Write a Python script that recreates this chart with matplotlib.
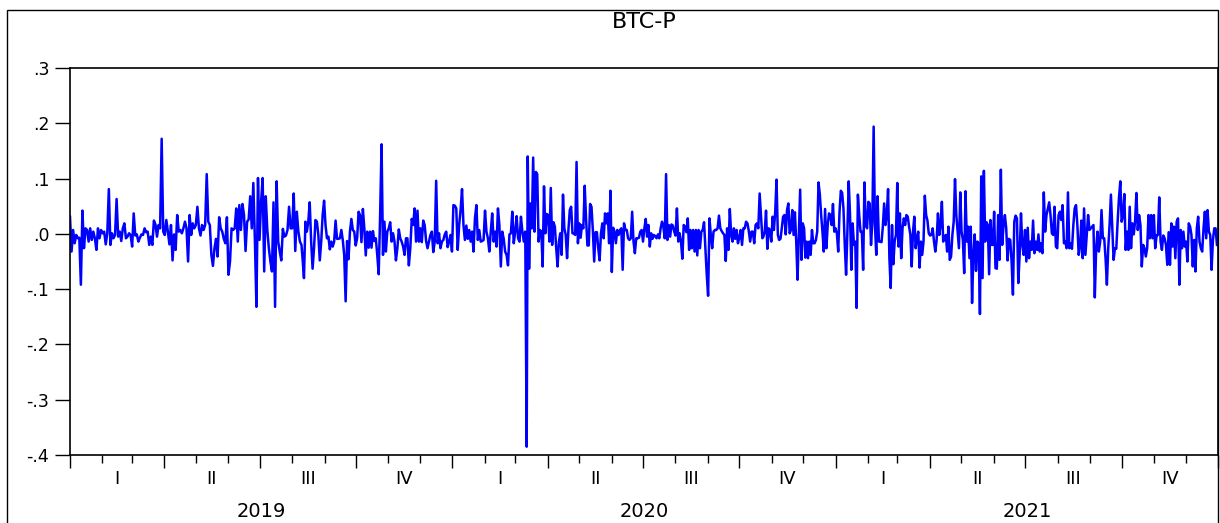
#!/usr/bin/env python3
"""BTC-P 日收益率序列图（EViews 风格）"""
import matplotlib
matplotlib.use('Agg')
import matplotlib.pyplot as plt
import matplotlib.dates as mdates
from matplotlib.patches import Rectangle
from matplotlib.ticker import NullFormatter
import pandas as pd

plt.rcParams['font.family'] = ['DejaVu Sans']

title = 'BTC-P'

# 各段数据（按图中读数估计）
seg1_dates = ('2019-01-01', '2019-08-10')
seg1 = [0.031, -0.032, 0.007, -0.017, -0.002, -0.008, -0.007, -0.092, 0.042, -0.026,
        0.010, 0.007, -0.014, 0.010, -0.011, 0.004, -0.008, -0.029, 0.010, -0.008,
        0.007, 0.001, 0.004, -0.019, 0.001, 0.081, -0.020, 0.001, -0.008, -0.002,
        0.063, -0.005, 0.004, -0.013, 0.010, 0.019, -0.008, -0.005, 0.001, -0.002,
        -0.023, 0.037, -0.003, -0.001, -0.014, -0.007, -0.001, -0.002, 0.010, 0.003,
        0.004, -0.020, -0.005, -0.020, 0.024, 0.017, -0.005, 0.016, 0.010, 0.172,
        0.004, -0.002, 0.025, 0.004, -0.019, 0.016, -0.048, -0.001, -0.029, 0.034,
        0.004, 0.007, 0.001, 0.010, 0.022, 0.010, -0.050, 0.034, -0.002, 0.019,
        0.010, 0.016, 0.049, 0.010, -0.003, 0.016, 0.007, 0.016, 0.108, 0.022,
        0.016, -0.038, -0.058, -0.026, -0.009, -0.041, 0.030, 0.010, 0.004, -0.009,
        -0.017, 0.030, -0.074, -0.050, 0.010, 0.007, 0.010, 0.046, -0.014, 0.052,
        0.007, 0.054, 0.034, -0.031, 0.022, 0.026, 0.068, 0.010, 0.092, -0.011,
        -0.132, 0.101, -0.011, 0.058, 0.101, -0.068, 0.068, 0.007, -0.026, -0.050,
        -0.068, 0.057, -0.132, 0.095, -0.014, -0.032, -0.048, 0.009, -0.005, -0.003,
        0.007, 0.049, 0.010, 0.010, 0.073, -0.031, 0.040, 0.004, -0.014, -0.020]

seg2_dates = ('2019-08-11', '2020-03-12')
seg2 = [-0.044, -0.080, 0.022, 0.004, 0.022, 0.057, -0.014, -0.063, -0.026, 0.025,
        0.022, -0.002, -0.048, -0.014, 0.034, 0.060, 0.016, -0.008, -0.005, -0.028,
        -0.014, -0.023, -0.014, 0.024, -0.009, -0.009, -0.008, 0.007, -0.011, -0.038,
        -0.122, -0.013, -0.046, 0.004, 0.027, 0.007, 0.004, -0.021, -0.008, 0.040,
        0.034, -0.015, 0.045, 0.010, -0.039, 0.004, -0.025, 0.004, -0.025, 0.005,
        -0.013, -0.008, -0.038, -0.073, 0.034, 0.162, -0.038, 0.022, -0.032, 0.004,
        0.010, 0.021, -0.014, 0.001, -0.014, -0.048, -0.026, 0.008, -0.008, -0.014,
        -0.023, -0.038, -0.008, -0.008, -0.057, -0.026, 0.027, 0.016, 0.046, -0.014,
        0.042, -0.014, 0.010, -0.015, 0.024, 0.016, -0.013, -0.026, -0.014, -0.002,
        0.004, -0.033, -0.014, 0.096, -0.017, 0.001, -0.026, -0.014, -0.011, -0.001,
        0.004, -0.024, -0.014, -0.002, -0.032, 0.052, 0.051, 0.046, -0.029, 0.016,
        0.043, 0.081, 0.016, -0.011, 0.015, -0.009, 0.007, -0.014, 0.004, -0.032,
        0.028, 0.052, -0.011, 0.007, -0.014, -0.013, -0.011, 0.042, 0.004, -0.008,
        -0.032, 0.004, 0.037, -0.014, 0.004, -0.023, 0.046, 0.016, -0.059, 0.004,
        -0.009, -0.032, -0.038, -0.057, -0.001, 0.001, 0.040, -0.017, 0.004, 0.032,
        -0.008, -0.014, 0.031, 0.004, -0.014, 0.004, -0.385]

seg3_dates = ('2020-03-13', '2020-10-23')
seg3 = [0.140, -0.063, 0.055, 0.010, 0.138, 0.004, 0.112, 0.108, -0.014, 0.007,
        0.004, -0.059, 0.086, 0.001, 0.036, 0.034, -0.014, 0.083, -0.020, 0.021,
        0.013, -0.026, -0.059, -0.014, 0.001, -0.038, 0.071, 0.010, -0.002, -0.044,
        0.007, 0.043, 0.049, 0.001, 0.001, -0.002, 0.130, -0.017, 0.019, -0.007,
        0.016, 0.010, 0.087, 0.028, -0.021, -0.021, 0.054, 0.049, 0.007, -0.050,
        0.003, 0.003, -0.026, -0.048, 0.001, 0.019, -0.008, 0.037, 0.019, 0.037,
        -0.017, 0.078, -0.069, 0.011, 0.004, -0.017, 0.007, -0.002, 0.007, 0.010,
        -0.065, 0.019, 0.007, 0.007, -0.008, -0.011, -0.008, 0.040, -0.014, -0.035,
        -0.008, -0.008, -0.007, 0.004, 0.007, -0.014, 0.010, 0.027, -0.005, 0.016,
        -0.023, 0.001, -0.009, -0.002, -0.004, -0.008, -0.001, -0.008, 0.010, 0.022,
        0.013, -0.008, 0.108, -0.011, 0.016, -0.005, 0.017, 0.015, 0.004, -0.003,
        0.046, -0.014, 0.001, -0.014, -0.045, 0.016, 0.013, 0.003, 0.028, -0.029,
        0.007, -0.026, 0.007, -0.032, 0.007, -0.039, 0.007, -0.026, 0.004, 0.007,
        0.021, -0.026, -0.074, -0.112, 0.028, -0.002, -0.026, 0.004, 0.007, 0.007,
        0.010, 0.033, 0.010, 0.005, 0.001, -0.002, -0.049, 0.010, -0.029, 0.045,
        -0.002, -0.014, 0.010, -0.009, 0.007, -0.017, -0.007, 0.007, -0.020, 0.010,
        0.010, 0.022, 0.019, 0.005, -0.014, 0.004, 0.004, -0.017, 0.016, 0.019,
        0.010, 0.073, 0.034, -0.008]

seg4_dates = ('2020-10-24', '2021-05-30')
seg4 = [-0.005, 0.004, 0.042, -0.027, 0.010, 0.007, -0.014, 0.031, 0.007, 0.040,
        0.098, -0.002, -0.011, -0.009, 0.010, 0.031, 0.034, -0.001, 0.043, 0.055,
        0.001, 0.007, 0.043, -0.002, 0.039, -0.014, -0.083, -0.002, 0.080, -0.047,
        0.019, 0.010, -0.043, -0.014, -0.044, -0.014, -0.038, 0.007, -0.017, -0.017,
        -0.011, 0.004, 0.093, 0.071, 0.034, 0.004, -0.032, 0.045, -0.026, 0.016,
        0.037, 0.034, 0.016, 0.054, 0.004, 0.010, 0.001, -0.032, 0.040, 0.078,
        0.074, 0.046, -0.020, -0.074, 0.004, 0.095, 0.034, -0.065, 0.019, -0.020,
        -0.014, -0.134, 0.071, 0.034, 0.004, 0.004, -0.065, 0.093, 0.016, 0.010,
        0.058, 0.055, -0.020, 0.022, 0.194, 0.016, -0.038, 0.068, -0.014, -0.014,
        -0.015, 0.013, 0.055, 0.016, 0.034, 0.081, -0.044, -0.098, 0.016, -0.055,
        -0.014, -0.002, 0.092, -0.023, 0.037, -0.044, 0.010, 0.028, 0.016, 0.034,
        0.031, 0.013, -0.002, -0.059, 0.004, 0.031, -0.026, -0.008, 0.004, -0.061,
        -0.014, -0.038, -0.014, 0.069, 0.034, 0.024, 0.001, -0.003, -0.002, 0.010,
        -0.014, -0.032, -0.011, 0.037, -0.002, 0.016, 0.058, -0.014, -0.005, -0.002,
        -0.032, 0.013, -0.047, -0.041, -0.002, 0.022, 0.099, 0.034, 0.004, -0.026,
        0.075, 0.004, -0.011, -0.071, 0.077, -0.014, 0.013, -0.044, 0.013, -0.125,
        -0.038, -0.001, -0.067, -0.014, -0.017, -0.145, 0.104, -0.080, 0.114, -0.014,
        0.021, 0.016, -0.073, 0.025, -0.020]

seg5_dates = ('2021-05-31', '2021-12-31')
seg5 = [-0.020, 0.040, -0.062, -0.063, 0.034, -0.047, 0.116, -0.020, 0.016, 0.034,
        0.010, -0.048, -0.009, -0.011, -0.050, -0.110, 0.022, 0.033, 0.028, -0.089,
        -0.038, 0.037, -0.020, -0.038, 0.007, -0.050, 0.011, -0.044, -0.014, -0.029,
        0.024, -0.035, -0.014, -0.029, -0.001, -0.032, -0.017, -0.035, 0.075, 0.004,
        0.034, 0.046, 0.057, 0.034, 0.001, -0.002, 0.049, -0.023, -0.026, 0.034,
        0.040, 0.025, 0.052, -0.017, -0.014, -0.026, 0.075, -0.026, -0.017, -0.027,
        0.016, 0.046, 0.052, 0.016, -0.038, -0.023, 0.024, -0.044, 0.046, -0.038,
        -0.002, 0.034, 0.007, 0.010, 0.013, 0.016, -0.115, -0.026, 0.004, -0.032,
        -0.014, 0.043, -0.008, -0.008, -0.044, -0.092, -0.026, 0.016, 0.071, 0.010,
        -0.047, -0.026, -0.027, 0.022, 0.065, 0.095, 0.022, 0.034, 0.072, -0.029,
        0.004, -0.029, 0.049, -0.026, 0.019, -0.001, 0.022, 0.074, 0.007, 0.034,
        0.016, -0.059, -0.020, -0.026, -0.041, -0.026, 0.034, -0.008, 0.034, -0.008,
        0.034, -0.026, -0.003, -0.002, 0.066, -0.014, -0.029, -0.003, -0.008, -0.020,
        -0.056, 0.003, -0.056, 0.019, -0.023, 0.013, -0.044, 0.022, 0.028, -0.092,
        0.007, -0.026, 0.004, -0.023, -0.014, -0.050, 0.019, 0.013, -0.002, -0.059,
        -0.011, -0.068, 0.010, 0.031, -0.014, -0.026, -0.032, 0.010, 0.040, -0.008,
        0.043, 0.004, -0.002, -0.065, -0.011, 0.010, 0.010, -0.020]

# 坐标轴刻度与标签
y_ticks = [0.3, 0.2, 0.1, 0.0, -0.1, -0.2, -0.3, -0.4]
y_labels = ['.3', '.2', '.1', '.0', '-.1', '-.2', '-.3', '-.4']
quarter_labels = ['I', 'II', 'III', 'IV']
years = [2019, 2020, 2021]

# 拼接为日期序列
segments = [(seg1_dates, seg1), (seg2_dates, seg2), (seg3_dates, seg3),
            (seg4_dates, seg4), (seg5_dates, seg5)]
parts = [pd.Series(vals, index=pd.date_range(d[0], d[1], periods=len(vals)))
         for d, vals in segments]
series = pd.concat(parts)

W, H = 1220, 523
fig = plt.figure(figsize=(W / 100, H / 100), dpi=100)
ax = fig.add_axes([70 / W, 1 - 455 / H, 1148 / W, 387 / H])

# 外框
fig.add_artist(Rectangle((7 / W, -0.05), (1218 - 7) / W, 1 - 10 / H + 0.05,
                         transform=fig.transFigure, fill=False,
                         edgecolor='black', linewidth=1.0))

ax.plot(series.index, series.values, color='#0000FF', linewidth=1.8)

ax.set_xlim(pd.Timestamp('2019-01-01'), pd.Timestamp('2022-01-01'))
ax.set_ylim(-0.4, 0.3)

# y 轴
ax.set_yticks(y_ticks)
ax.set_yticklabels(y_labels, fontsize=12.5)
ax.tick_params(axis='y', direction='out', length=11, width=1.0, pad=4)

# x 轴：季度主刻度，月度次刻度
ax.xaxis.set_major_locator(mdates.MonthLocator(bymonth=[1, 4, 7, 10]))
ax.xaxis.set_minor_locator(mdates.MonthLocator())
ax.xaxis.set_major_formatter(NullFormatter())
ax.tick_params(axis='x', which='major', direction='out', length=9, width=1.0)
ax.tick_params(axis='x', which='minor', direction='out', length=6, width=1.0)

for spine in ax.spines.values():
    spine.set_linewidth(1.2)

# 季度和年份标签
trans = ax.get_xaxis_transform()
for yr in years:
    for q, lab in enumerate(quarter_labels):
        start = pd.Timestamp(year=yr, month=3 * q + 1, day=1)
        end = start + pd.DateOffset(months=3)
        mid = start + (end - start) / 2
        ax.text(mid, -0.062, lab, transform=trans, ha='center', va='center',
                fontsize=13)
    ystart = pd.Timestamp(year=yr, month=1, day=1)
    ymid = ystart + (pd.Timestamp(year=yr + 1, month=1, day=1) - ystart) / 2
    ax.text(ymid, -0.145, str(yr), transform=trans, ha='center', va='center',
            fontsize=14)

fig.text(644 / W, 1 - 22 / H, title, ha='center', va='center', fontsize=16)

fig.savefig('out.png', dpi=100, facecolor='white')
plt.close(fig)
